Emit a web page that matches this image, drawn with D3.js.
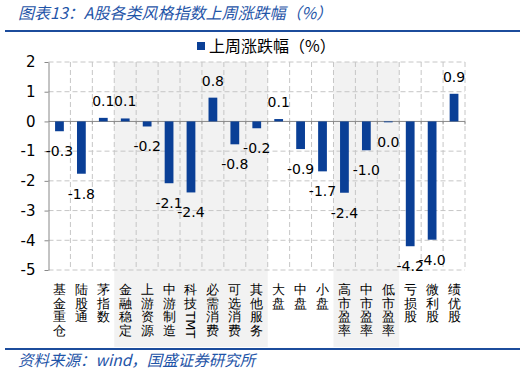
<!DOCTYPE html>
<html lang="zh">
<head>
<meta charset="UTF-8">
<title>A股各类风格指数上周涨跌幅</title>
<script src="https://d3js.org/d3.v7.min.js"></script>
<style>
  body { margin: 0; background: #fff; }
  svg text { font-family: "DejaVu Sans", sans-serif; }
  .cjk { font-family: "Noto Sans CJK SC", sans-serif; }
</style>
</head>
<body>
<div id="chart"></div>
<script>
// categories (x axis)
var categories = ["基金重仓", "陆股通", "茅指数", "金融稳定", "上游资源", "中游制造", "科技TMT",
  "必需消费", "可选消费", "其他服务", "大盘", "中盘", "小盘", "高市盈率", "中市盈率", "低市盈率",
  "亏损股", "微利股", "绩优股"];
// weekly change (%)
var values = [-0.33, -1.76, 0.12, 0.10, -0.17, -2.08, -2.39, 0.80, -0.77, -0.23, 0.08, -0.93,
  -1.68, -2.40, -0.97, -0.03, -4.20, -3.98, 0.93];
var seriesName = "上周涨跌幅（%）";
var yTicks = [2, 1, 0, -1, -2, -3, -4, -5];
// shaded groups: [first category, last category]
var groups = [["金融稳定", "其他服务"], ["高市盈率", "低市盈率"]];

var width = 526, height = 373;
var margin = {top: 62, bottom: 103, left: 48.5, right: 61};

var svg = d3.select("#chart").append("svg")
  .attr("width", width)
  .attr("height", height);

var x = d3.scaleBand()
  .domain(categories)
  .range([margin.left, width - margin.right]);

var y = d3.scaleLinear()
  .domain([-5, 2])
  .range([height - margin.bottom, margin.top]);

var blue = "#0a3f96";
var lineBlue = "#1c4c9c";

// title + rules
svg.append("text")
  .attr("class", "cjk")
  .attr("x", 18).attr("y", 19)
  .attr("font-size", 16).attr("font-style", "italic")
  .attr("fill", "#1f55a8")
  .text("图表13：A股各类风格指数上周涨跌幅（%）");
svg.append("rect").attr("x", 5).attr("y", 30).attr("width", 515).attr("height", 2).attr("fill", lineBlue);
svg.append("rect").attr("x", 5).attr("y", 348).attr("width", 515).attr("height", 2).attr("fill", lineBlue);
svg.append("text")
  .attr("class", "cjk")
  .attr("x", 18).attr("y", 366)
  .attr("font-size", 15.5).attr("font-style", "italic")
  .attr("fill", "#1f55a8")
  .text("资料来源：wind，国盛证券研究所");

// shaded bands
svg.append("g").selectAll("rect")
  .data(groups)
  .enter().append("rect")
  .attr("x", function (g) { return x(g[0]); })
  .attr("width", function (g) { return x(g[1]) + x.bandwidth() - x(g[0]); })
  .attr("y", margin.top)
  .attr("height", 347 - margin.top)
  .attr("fill", "#f2f2f2");

// grid
var grid = svg.append("g").attr("stroke", "#c6c6c6").attr("stroke-dasharray", "5,3");
grid.selectAll("line.h")
  .data(yTicks.filter(function (t) { return t !== 0; }))
  .enter().append("line")
  .attr("x1", margin.left).attr("x2", width - margin.right)
  .attr("y1", function (t) { return y(t); })
  .attr("y2", function (t) { return y(t); });
grid.selectAll("line.v")
  .data(categories)
  .enter().append("line")
  .attr("x1", function (c) { return x(c) + x.bandwidth(); })
  .attr("x2", function (c) { return x(c) + x.bandwidth(); })
  .attr("y1", margin.top).attr("y2", height - margin.bottom);

// y axis
var yAxis = svg.append("g")
  .attr("transform", "translate(" + margin.left + ",0)")
  .call(d3.axisLeft(y).tickValues(yTicks).tickSize(4).tickSizeOuter(0).tickPadding(9)
    .tickFormat(function (d) { return String(d); }));
yAxis.select(".domain").attr("stroke", "#888");
yAxis.selectAll(".tick line").attr("stroke", "#888");
yAxis.selectAll("text").attr("font-size", 15).attr("fill", "#000")
  .attr("font-family", "DejaVu Sans, sans-serif");

// zero line with ticks at category boundaries
var zero = svg.append("g").attr("stroke", "#888");
zero.append("line")
  .attr("x1", margin.left).attr("x2", width - margin.right)
  .attr("y1", y(0)).attr("y2", y(0));
zero.selectAll("line.t")
  .data(categories)
  .enter().append("line")
  .attr("x1", function (c) { return x(c) + x.bandwidth(); })
  .attr("x2", function (c) { return x(c) + x.bandwidth(); })
  .attr("y1", y(0)).attr("y2", y(0) + 3);

// bars
var barW = x.bandwidth() * 0.4;
svg.append("g").selectAll("rect")
  .data(values)
  .enter().append("rect")
  .attr("x", function (v, i) { return x(categories[i]) + (x.bandwidth() - barW) / 2; })
  .attr("width", barW)
  .attr("y", function (v) { return y(Math.max(0, v)); })
  .attr("height", function (v) { return Math.abs(y(v) - y(0)); })
  .attr("fill", blue);

// value labels
function fmt(v) { return Math.abs(v) < 0.05 ? "0.0" : v.toFixed(1); }
svg.append("g").selectAll("text")
  .data(values)
  .enter().append("text")
  .attr("x", function (v, i) { return x(categories[i]) + x.bandwidth() / 2; })
  .attr("y", function (v) { return v >= 0 ? y(v) - 12 : y(v) + 25; })
  .attr("text-anchor", "middle")
  .attr("font-size", 14)
  .attr("fill", "#000")
  .text(fmt);

// category labels, stacked vertically one character per row; latin runs turned sideways
var labelTop = 283, rowH = 13.6;
var labG = svg.append("g").attr("class", "cjk").attr("font-size", 13).attr("fill", "#000");
categories.forEach(function (c) {
  var cx = x(c) + x.bandwidth() / 2;
  var yy = labelTop;
  c.match(/[A-Za-z]+|./g).forEach(function (u) {
    if (/[A-Za-z]/.test(u)) {
      var t = labG.append("text")
        .attr("font-family", "DejaVu Sans, sans-serif")
        .attr("font-size", 13)
        .attr("transform", "translate(" + (cx - 4.5) + "," + (yy + 1) + ") rotate(90)")
        .text(u);
      yy += t.node().getComputedTextLength() + 2;
    } else {
      labG.append("text")
        .attr("x", cx).attr("y", yy + 11)
        .attr("text-anchor", "middle")
        .text(u);
      yy += rowH;
    }
  });
});

// legend
svg.append("rect").attr("x", 197).attr("y", 42).attr("width", 8).attr("height", 8).attr("fill", blue);
svg.append("text")
  .attr("class", "cjk")
  .attr("x", 209).attr("y", 51.5)
  .attr("font-size", 16)
  .attr("fill", "#000")
  .text(seriesName);
</script>
</body>
</html>
